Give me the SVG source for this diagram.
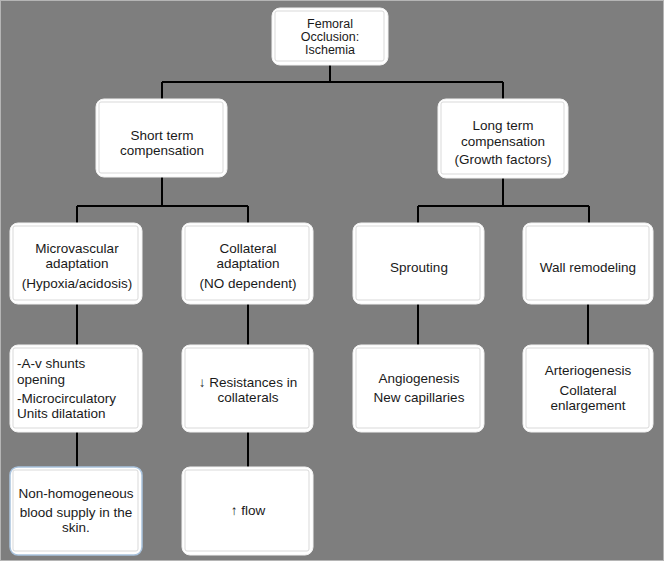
<svg xmlns="http://www.w3.org/2000/svg" width="664" height="561" viewBox="0 0 664 561">
<style>
.box{fill:#ffffff;stroke:#f2f2f2;stroke-width:1}
.inner{fill:none;stroke:#d9d9d9;stroke-width:1}
.t{font-family:"Liberation Sans",Arial,sans-serif;font-size:13.5px;fill:#1a1a1a;text-anchor:middle}
.tl{text-anchor:start}
.small{font-size:12.5px}
.conn path{fill:none;stroke:#000;stroke-width:2}
</style>
<rect x="0" y="0" width="664" height="561" fill="#7e7e7e"/>
<rect x="0.5" y="0.5" width="663" height="560" fill="none" stroke="#b5b5b5" stroke-width="1"/>
<g class="conn">
<path d="M330 65V82M162 82H503M162 82V99M503 82V99"/>
<path d="M162 177V206M77 206H248M77 206V223M248 206V223"/>
<path d="M503 178V206M418 206H589M418 206V223M589 206V223"/>
<path d="M77 304V345M248 304V345M418 304V345M588 304V345"/>
<path d="M77 432V467M248 432V467"/>
</g>
<g id="n-top">
<rect class="box" x="272" y="8" width="116" height="57" rx="8"/>
<rect class="inner" x="275" y="11" width="109" height="50" rx="2"/>
<text class="t small" x="330" y="28">Femoral</text>
<text class="t small" x="330" y="41">Occlusion:</text>
<text class="t small" x="330" y="54">Ischemia</text>
</g>
<g id="n-short">
<rect class="box" x="96" y="99" width="131" height="78" rx="8"/>
<rect class="inner" x="99" y="102" width="124" height="71" rx="2"/>
<text class="t" x="162" y="140">Short term</text>
<text class="t" x="162" y="155">compensation</text>
</g>
<g id="n-long">
<rect class="box" x="438" y="99" width="130" height="79" rx="8"/>
<rect class="inner" x="441" y="102" width="123" height="72" rx="2"/>
<text class="t" x="503" y="130">Long term</text>
<text class="t" x="503" y="146">compensation</text>
<text class="t" x="503" y="164">(Growth factors)</text>
</g>
<g id="n-micro">
<rect class="box" x="10" y="223" width="132" height="81" rx="8"/>
<rect class="inner" x="13" y="226" width="125" height="74" rx="2"/>
<text class="t" x="77" y="253">Microvascular</text>
<text class="t" x="77" y="268">adaptation</text>
<text class="t" x="77" y="288">(Hypoxia/acidosis)</text>
</g>
<g id="n-coll">
<rect class="box" x="182" y="223" width="131" height="81" rx="8"/>
<rect class="inner" x="185" y="226" width="124" height="74" rx="2"/>
<text class="t" x="248" y="253">Collateral</text>
<text class="t" x="248" y="268">adaptation</text>
<text class="t" x="248" y="288">(NO dependent)</text>
</g>
<g id="n-sprout">
<rect class="box" x="353" y="223" width="131" height="81" rx="8"/>
<rect class="inner" x="356" y="226" width="124" height="74" rx="2"/>
<text class="t" x="419" y="272">Sprouting</text>
</g>
<g id="n-wall">
<rect class="box" x="523" y="223" width="130" height="81" rx="8"/>
<rect class="inner" x="526" y="226" width="123" height="74" rx="2"/>
<text class="t" x="588" y="272">Wall remodeling</text>
</g>
<g id="n-av">
<rect class="box" x="10" y="345" width="132" height="87" rx="8"/>
<rect class="inner" x="13" y="348" width="125" height="80" rx="2"/>
<text class="t tl" x="17" y="368">-A-v shunts</text>
<text class="t tl" x="17" y="384">opening</text>
<text class="t tl" x="17" y="403">-Microcirculatory</text>
<text class="t tl" x="17" y="418">Units dilatation</text>
</g>
<g id="n-resist">
<rect class="box" x="182" y="345" width="131" height="87" rx="8"/>
<rect class="inner" x="185" y="348" width="124" height="80" rx="2"/>
<text class="t" x="248" y="387">↓ Resistances in</text>
<text class="t" x="248" y="402">collaterals</text>
</g>
<g id="n-angio">
<rect class="box" x="353" y="345" width="131" height="87" rx="8"/>
<rect class="inner" x="356" y="348" width="124" height="80" rx="2"/>
<text class="t" x="419" y="383">Angiogenesis</text>
<text class="t" x="419" y="402">New capillaries</text>
</g>
<g id="n-arterio">
<rect class="box" x="523" y="345" width="130" height="87" rx="8"/>
<rect class="inner" x="526" y="348" width="123" height="80" rx="2"/>
<text class="t" x="588" y="375">Arteriogenesis</text>
<text class="t" x="588" y="395">Collateral</text>
<text class="t" x="588" y="410">enlargement</text>
</g>
<g id="n-nonhom">
<rect class="box" x="10" y="467" width="132" height="88" rx="8" style="stroke:#a9c3de;stroke-width:1.5"/>
<rect class="inner" x="13" y="470" width="125" height="81" rx="2"/>
<text class="t" x="76" y="498">Non-homogeneous</text>
<text class="t" x="76" y="517">blood supply in the</text>
<text class="t" x="76" y="532">skin.</text>
</g>
<g id="n-flow">
<rect class="box" x="182" y="467" width="131" height="88" rx="8"/>
<rect class="inner" x="185" y="470" width="124" height="81" rx="2"/>
<text class="t" x="248" y="515">↑ flow</text>
</g>
</svg>
